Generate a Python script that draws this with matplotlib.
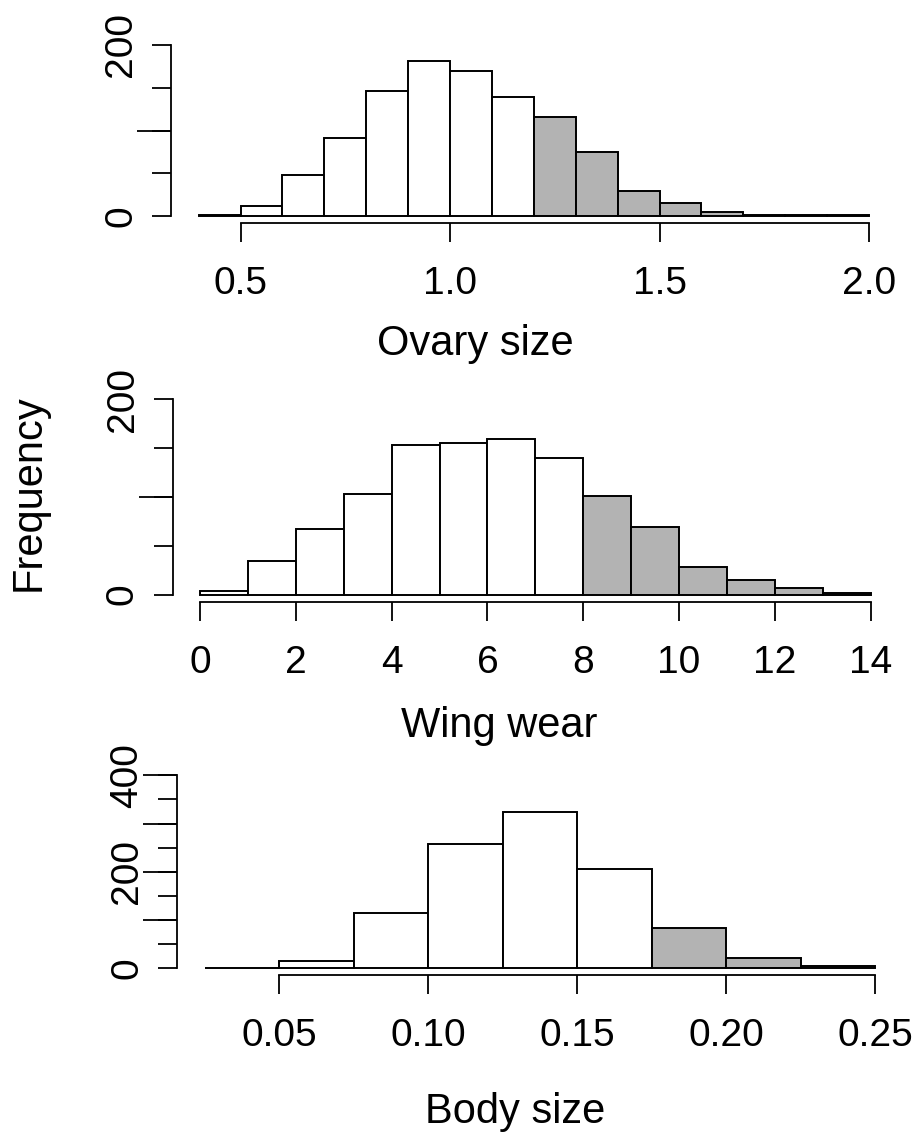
import numpy as np
import matplotlib
matplotlib.use('Agg')
import matplotlib.pyplot as plt
import matplotlib.transforms as mtransforms

plt.rcParams['font.family'] = ['Liberation Sans', 'DejaVu Sans']

# histogram data (bin edges + counts), grey from the threshold upwards
ovary_edges = [0.4, 0.5, 0.6, 0.7, 0.8, 0.9, 1.0, 1.1, 1.2, 1.3, 1.4, 1.5, 1.6, 1.7, 1.8, 1.9, 2.0]
ovary_counts = [1, 12, 48, 91, 146, 181, 170, 139, 116, 75, 29, 15, 5, 1, 1, 1]
ovary_cut = 1.2
ovary_ticks = [0.5, 1.0, 1.5, 2.0]
ovary_ticklabels = ['0.5', '1.0', '1.5', '2.0']

wing_edges = list(range(0, 15))
wing_counts = [4, 34, 67, 103, 153, 155, 159, 140, 101, 69, 28, 15, 7, 2]
wing_cut = 8
wing_ticks = [0, 2, 4, 6, 8, 10, 12, 14]
wing_ticklabels = ['0', '2', '4', '6', '8', '10', '12', '14']

body_edges = [0.025, 0.05, 0.075, 0.1, 0.125, 0.15, 0.175, 0.2, 0.225, 0.25]
body_counts = [0, 16, 115, 258, 324, 206, 84, 21, 5]
body_cut = 0.175
body_ticks = [0.05, 0.10, 0.15, 0.20, 0.25]
body_ticklabels = ['0.05', '0.10', '0.15', '0.20', '0.25']

W, H = 919, 1133
fig = plt.figure(figsize=(W / 100, H / 100), dpi=100)


def make_ax(left, right, bottom, top, xa, xb, ya, yb):
    # place axes in pixel units, limits from two known data/pixel pairs per axis
    ax = fig.add_axes([left / W, 1 - bottom / H, (right - left) / W, (bottom - top) / H])
    sx = (xb[1] - xa[1]) / (xb[0] - xa[0])
    ax.set_xlim(xa[0] + (left - xa[1]) / sx, xa[0] + (right - xa[1]) / sx)
    sy = (yb[1] - ya[1]) / (yb[0] - ya[0])
    ax.set_ylim(ya[0] + (bottom - ya[1]) / sy, ya[0] + (top - ya[1]) / sy)
    ax.width_px = right - left
    return ax


def draw_hist(ax, edges, counts, cut, xticks, xlabels, ymax, ylabeled, ylong):
    edges = np.array(edges, dtype=float)
    colors = ['#b3b3b3' if e >= cut - 1e-9 else 'white' for e in edges[:-1]]
    ax.bar(edges[:-1], counts, width=np.diff(edges), align='edge',
           color=colors, edgecolor='black', linewidth=1.4, clip_on=False)
    for s in ['top', 'right']:
        ax.spines[s].set_visible(False)
    ax.spines['left'].set_bounds(0, ymax)
    ax.spines['bottom'].set_bounds(xticks[0], xticks[-1])
    ax.spines['left'].set_linewidth(1.3)
    ax.spines['bottom'].set_linewidth(1.3)
    ax.set_xticks(xticks)
    ax.set_xticklabels(xlabels)
    yt = list(range(0, ymax + 1, 50))
    ax.set_yticks(yt)
    ax.set_yticklabels([str(v) if v in ylabeled else '' for v in yt],
                       rotation=90, va='center')
    ax.tick_params(axis='x', direction='out', length=14, width=1.3, labelsize=28, pad=17)
    ax.tick_params(axis='y', direction='out', length=14, width=1.3, labelsize=28, pad=9)
    # longer ticks drawn by hand
    trans = mtransforms.blended_transform_factory(ax.transAxes, ax.transData)
    for v in ylong:
        ax.plot([-34 / ax.width_px, 0], [v, v], transform=trans, color='black',
                linewidth=1.3, clip_on=False, solid_capstyle='butt')
    ax.patch.set_visible(False)


ax1 = make_ax(171, 896, 222.8, 40, (0.5, 240.5), (2.0, 869), (0, 216.3), (200, 44.8))
draw_hist(ax1, ovary_edges, ovary_counts, ovary_cut, ovary_ticks, ovary_ticklabels,
          200, [0, 200], [100])

ax2 = make_ax(172.7, 898, 602, 390, (0, 200), (14, 870.7), (0, 594.5), (200, 399.3))
draw_hist(ax2, wing_edges, wing_counts, wing_cut, wing_ticks, wing_ticklabels,
          200, [0, 200], [100])

ax3 = make_ax(177.3, 902, 974.7, 765, (0.05, 279), (0.25, 875), (0, 968.3), (400, 775.3))
draw_hist(ax3, body_edges, body_counts, body_cut, body_ticks, body_ticklabels,
          400, [0, 200, 400], [100, 200, 300, 400])

fig.text(475 / W, 1 - 355 / H, 'Ovary size', ha='center', va='baseline', fontsize=30)
fig.text(499 / W, 1 - 737 / H, 'Wing wear', ha='center', va='baseline', fontsize=30)
fig.text(515 / W, 1 - 1123 / H, 'Body size', ha='center', va='baseline', fontsize=30)
fig.text(29 / W, 1 - 493 / H, 'Frequency', rotation=90, ha='center', va='center', fontsize=30)

fig.savefig('out.png', dpi=100)
